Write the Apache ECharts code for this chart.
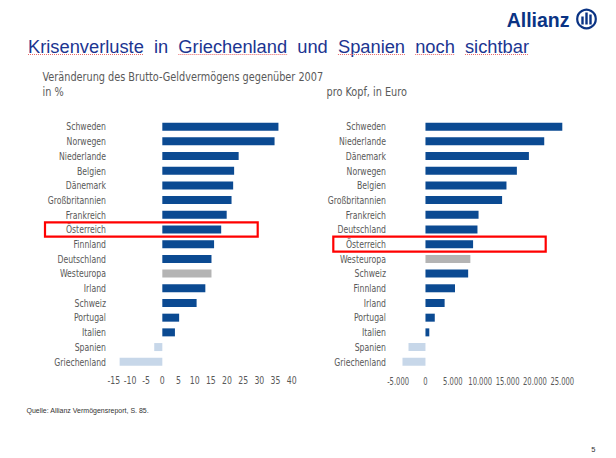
<!DOCTYPE html>
<html>
<head>
<meta charset="utf-8">
<script src="https://cdn.jsdelivr.net/npm/echarts@6/dist/echarts.min.js"></script>
<style>
html,body{margin:0;padding:0;background:#fff;}
#chart{width:616px;height:458px;}
</style>
</head>
<body>
<div id="chart"></div>
<script>
// ---- data ----
const categoriesPct = ['Schweden','Norwegen','Niederlande','Belgien','Dänemark','Großbritannien','Frankreich','Österreich','Finnland','Deutschland','Westeuropa','Irland','Schweiz','Portugal','Italien','Spanien','Griechenland'];
const valuesPct = [35.9,34.7,23.6,22.2,21.9,21.4,19.9,18.2,16.0,15.2,15.2,13.3,10.6,5.2,3.9,-2.5,-13.2];
const categoriesEuro = ['Schweden','Niederlande','Dänemark','Norwegen','Belgien','Großbritannien','Frankreich','Deutschland','Österreich','Westeuropa','Schweiz','Finnland','Irland','Portugal','Italien','Spanien','Griechenland'];
const valuesEuro = [25600,21700,18900,16700,14800,14000,9700,9500,8700,8200,7800,5400,3500,1700,700,-3100,-4200];
const ticksPct = {min:-15, max:40, interval:5};
const ticksEuro = {min:-5000, max:25000, interval:5000};
const titleText = 'Krisenverluste  in  Griechenland  und  Spanien  noch  sichtbar';
const subtitleLeft1 = 'Veränderung des Brutto-Geldvermögens gegenüber 2007';
const subtitleLeft2 = 'in %';
const subtitleRight = 'pro Kopf, in Euro';
const sourceText = 'Quelle: Allianz Vermögensreport, S. 85.';
const pageNumber = '5';
const highlight = 'Österreich';

// ---- styling ----
const DARK = '#0b4a92', GREY = '#b4b4b4', LIGHT = '#c7d7e9';
const COND = '"DejaVu Sans Condensed","DejaVu Sans",sans-serif';
const ARIAL = '"Liberation Sans",Arial,sans-serif';
const LABEL_GREY = '#595959';
function barColor(cat, v){ if (v < 0) return LIGHT; if (cat === 'Westeuropa') return GREY; return DARK; }
function deNum(v){ const s = String(Math.abs(v)).replace(/\B(?=(\d{3})+(?!\d))/g,'.'); return (v<0?'-':'')+s; }

const chart = echarts.init(document.getElementById('chart'), null, {renderer:'svg'});
const gridTop = 119.3, gridH = 249.8;

const option = {
  animation:false,
  backgroundColor:'#fff',
  grid:[
    {left:113.8, width:177.9, top:gridTop, height:gridH},
    {left:398.1, width:164.2, top:gridTop, height:gridH}
  ],
  xAxis:[
    {gridIndex:0, type:'value', min:ticksPct.min, max:ticksPct.max, interval:ticksPct.interval,
     axisLine:{show:false}, axisTick:{show:false}, splitLine:{show:false}, axisLabel:{show:false}},
    {gridIndex:1, type:'value', min:ticksEuro.min, max:ticksEuro.max, interval:ticksEuro.interval,
     axisLine:{show:false}, axisTick:{show:false}, splitLine:{show:false}, axisLabel:{show:false}}
  ],
  yAxis:[
    {gridIndex:0, type:'category', inverse:true, data:categoriesPct,
     axisLine:{show:false}, axisTick:{show:false}, axisLabel:{show:false}},
    {gridIndex:1, type:'category', inverse:true, data:categoriesEuro,
     axisLine:{show:false}, axisTick:{show:false}, axisLabel:{show:false}}
  ],
  series:[
    {type:'bar', xAxisIndex:0, yAxisIndex:0, barWidth:8,
     data:valuesPct.map((v,i)=>({value:v, itemStyle:{color:barColor(categoriesPct[i],v)}}))},
    {type:'bar', xAxisIndex:1, yAxisIndex:1, barWidth:8,
     data:valuesEuro.map((v,i)=>({value:v, itemStyle:{color:barColor(categoriesEuro[i],v)}}))}
  ]
};
chart.setOption(option);

// condensed axis labels placed through the axes' own scales
function categoryLabels(axisIdx, cats, rightX){
  return cats.map(c => ({type:'text', x:rightX, y:chart.convertToPixel({yAxisIndex:axisIdx}, c), scaleX:0.82,
    style:{text:c, fontFamily:COND, fontSize:10.5, fill:LABEL_GREY, align:'right', verticalAlign:'middle'}}));
}
function tickLabels(axisIdx, t, fmt, sx){
  const out = [];
  for (let v = t.min; v <= t.max; v += t.interval){
    out.push({type:'text', x:chart.convertToPixel({xAxisIndex:axisIdx}, v), y:380.5, scaleX:sx,
      style:{text:fmt(v), fontFamily:COND, fontSize:10.8, fill:LABEL_GREY, align:'center', verticalAlign:'middle'}});
  }
  return out;
}

// spell-check style underline under title words
const mctx = document.createElement('canvas').getContext('2d');
const titleSize = 18.3;
mctx.font = titleSize + 'px "Liberation Sans", Arial, sans-serif';
const titleX = 28, titleY = 46.2;
const underlined = ['Krisenverluste','Griechenland','Spanien','noch','sichtbar'];
const underlineEls = [];
{
  let pos = 0;
  titleText.split(/(\s+)/).forEach(tok => {
    const w = mctx.measureText(tok).width;
    if (underlined.includes(tok)) {
      underlineEls.push({type:'line', silent:true, z:10, shape:{x1:titleX+pos, y1:54.5, x2:titleX+pos+w, y2:54.5},
        style:{stroke:'#e86a6a', lineWidth:1, lineDash:[1,1]}});
    }
    pos += w;
  });
}

const yL = chart.convertToPixel({yAxisIndex:0}, highlight);
const yR = chart.convertToPixel({yAxisIndex:1}, highlight);
const LOGO = '#0a3384';
const subStyle = {fontFamily:COND, fontSize:12.8, fill:LABEL_GREY, verticalAlign:'middle'};

chart.setOption({
  graphic:[
    {type:'text', x:titleX, y:titleY, style:{text:titleText, fontFamily:ARIAL, fontSize:titleSize, fill:'#1c3591', verticalAlign:'middle'}},
    ...underlineEls,
    {type:'text', x:42.5, y:77, scaleX:0.845, style:Object.assign({text:subtitleLeft1}, subStyle)},
    {type:'text', x:42.5, y:92, scaleX:0.845, style:Object.assign({text:subtitleLeft2}, subStyle)},
    {type:'text', x:326.5, y:92, scaleX:0.845, style:Object.assign({text:subtitleRight}, subStyle)},
    ...categoryLabels(0, categoriesPct, 106),
    ...categoryLabels(1, categoriesEuro, 386),
    ...tickLabels(0, ticksPct, v => String(v), 0.8),
    ...tickLabels(1, ticksEuro, deNum, 0.7),
    {type:'text', x:569.5, y:19.5, style:{text:'Allianz', fontFamily:ARIAL, fontWeight:'bold', fontSize:19.5, fill:LOGO, align:'right', verticalAlign:'middle'}},
    {type:'circle', shape:{cx:586.5, cy:19, r:9.3}, style:{fill:'none', stroke:LOGO, lineWidth:2.2}},
    {type:'rect', shape:{x:581.3, y:16.5, width:2.4, height:8}, style:{fill:LOGO}},
    {type:'rect', shape:{x:585.3, y:12.5, width:2.4, height:12}, style:{fill:LOGO}},
    {type:'rect', shape:{x:589.3, y:14.5, width:2.4, height:10}, style:{fill:LOGO}},
    {type:'rect', shape:{x:45, y:yL-7.2, width:212.7, height:14.4}, style:{fill:'none', stroke:'#ff0000', lineWidth:2.2}},
    {type:'rect', shape:{x:333.3, y:yR-7.5, width:212.4, height:15}, style:{fill:'none', stroke:'#ff0000', lineWidth:2.2}},
    {type:'text', x:26.5, y:410, style:{text:sourceText, fontFamily:ARIAL, fontSize:7, fill:'#333', verticalAlign:'middle'}},
    {type:'text', x:593.3, y:449, style:{text:pageNumber, fontFamily:ARIAL, fontSize:7.5, fill:'#333', align:'center', verticalAlign:'middle'}}
  ]
});
</script>
</body>
</html>
